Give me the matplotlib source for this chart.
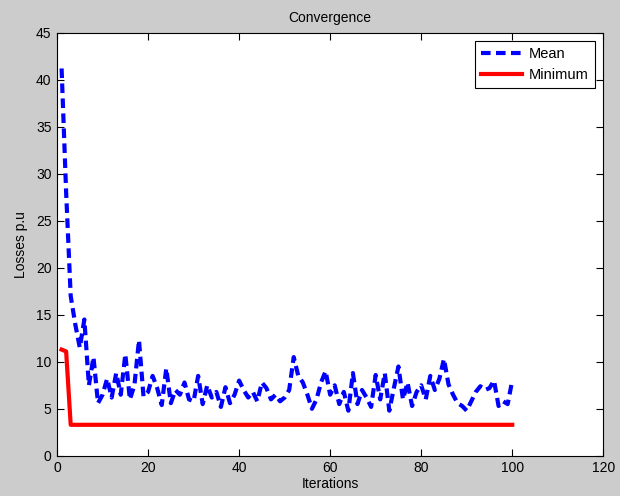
import matplotlib
matplotlib.use("Agg")
import matplotlib.pyplot as plt
import numpy as np

iterations = np.arange(1, 101)
mean_loss = [41.2, 28.0, 17.0, 14.0, 11.5, 14.5, 7.5, 10.5, 5.6, 6.5,
             8.2, 6.2, 8.8, 6.5, 10.8, 6.0, 7.5, 12.3, 6.3, 6.8,
             8.5, 7.2, 5.4, 9.3, 5.6, 7.0, 6.5, 7.8, 6.0, 5.8,
             8.5, 5.5, 7.5, 6.2, 6.8, 5.2, 7.3, 5.6, 6.5, 8.0,
             7.0, 6.2, 6.8, 5.8, 7.8, 7.2, 6.0, 6.5, 5.8, 6.2,
             7.0, 10.5, 8.5, 7.8, 6.5, 5.0, 6.0, 7.8, 9.0, 6.5,
             7.5, 5.5, 6.8, 4.8, 8.8, 5.5, 7.0, 6.2, 5.2, 8.6,
             6.0, 8.8, 4.8, 7.2, 9.5, 6.0, 7.8, 5.3, 6.8, 7.5,
             6.0, 8.5, 7.0, 8.2, 10.3, 7.6, 6.5, 5.6, 5.3, 4.8,
             5.8, 6.8, 7.4, 7.0, 7.2, 8.0, 5.3, 5.8, 5.5, 8.0]
min_loss = [11.3, 11.1] + [3.3] * 98

plt.rcParams['font.family'] = ['Liberation Sans', 'DejaVu Sans']
plt.rcParams['font.size'] = 9

fig = plt.figure(figsize=(6.2, 4.96), dpi=100, facecolor='#cccccc')
ax = fig.add_axes([0.092, 0.081, 0.881, 0.853])
ax.set_facecolor('white')

ax.plot(iterations, mean_loss, color='blue', linestyle='--', linewidth=3,
        dashes=(2.3, 1.3), label='Mean')
ax.plot(iterations, min_loss, color='red', linewidth=3, label='Minimum')

ax.set_xlim(0, 120)
ax.set_ylim(0, 45)
ax.set_xticks(np.arange(0, 121, 20))
ax.set_yticks(np.arange(0, 46, 5))
ax.tick_params(direction='in', top=True, right=True, length=5, width=0.8,
               labelsize=10, pad=4)
for s in ax.spines.values():
    s.set_linewidth(0.8)

ax.set_title('Convergence', fontsize=10, pad=8)
ax.set_xlabel('Iterations', fontsize=10, labelpad=1)
ax.set_ylabel('Losses p.u', fontsize=10, labelpad=6)

leg = ax.legend(loc='upper right', fancybox=False, framealpha=1,
                edgecolor='black', fontsize=10.5, handlelength=2.8,
                handletextpad=0.5, borderaxespad=0.6, labelspacing=0.45)
leg.get_frame().set_linewidth(0.8)

fig.savefig('out.png', dpi=100, facecolor=fig.get_facecolor())
